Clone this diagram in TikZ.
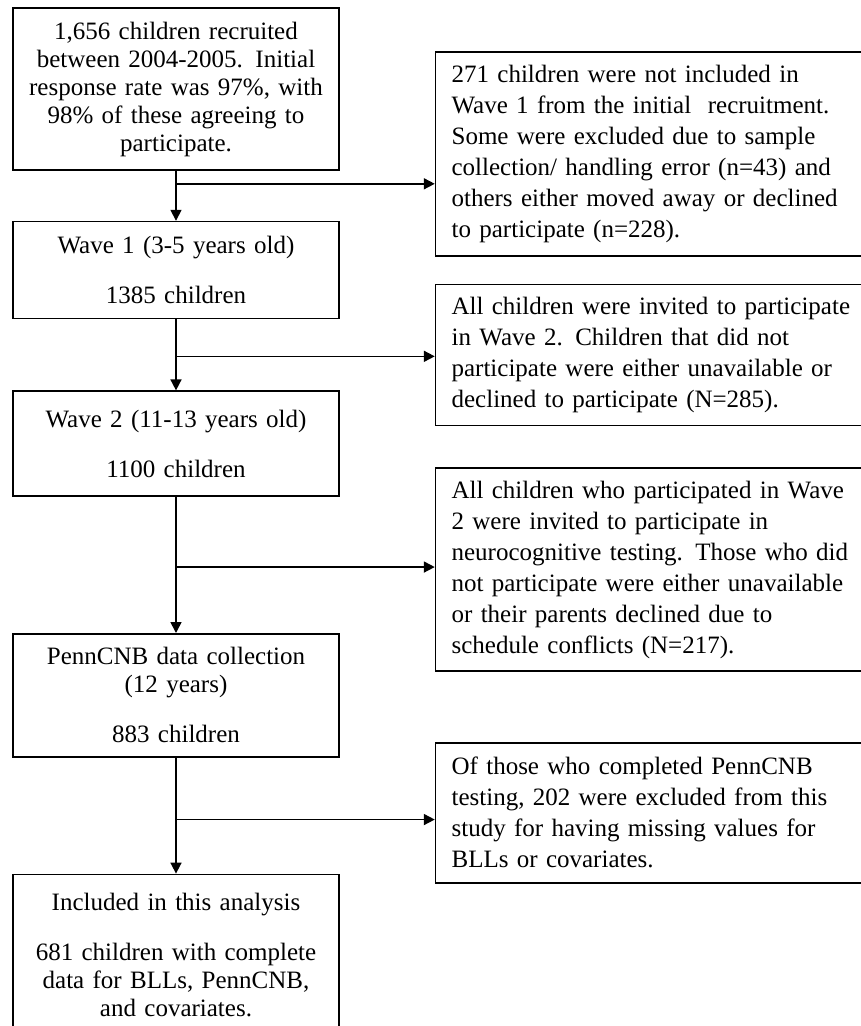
\documentclass[tikz,border=0pt]{standalone}
\usepackage{fontspec}
\setmainfont{Liberation Serif}
\usepackage{tikz}
\usetikzlibrary{arrows.meta,positioning,calc}

\begin{document}
\begin{tikzpicture}[
    x=1pt, y=1pt,
    node distance=50pt,
    stagebox/.style={rectangle, draw=black, line width=1.6pt, text width=310pt, inner xsep=8pt, inner ysep=0pt, align=center, font=\fontsize{25}{28}\selectfont},
    exclbox/.style={rectangle, draw=black, line width=1.6pt, text width=430pt, inner xsep=16pt, inner ysep=0pt, align=left, font=\fontsize{25}{31}\selectfont},
    arrow/.style={-{Triangle[length=11pt,width=11pt]}, line width=1.6pt}
]
\useasboundingbox (0,0) rectangle (861,-1026);
\clip (0,0) rectangle (861,-1026);

% Main flow
\node[stagebox, minimum height=162pt] (recruit) at (176,-89) {1,656 children recruited\\ between 2004-2005.  Initial\\ response rate was 97\%, with\\ 98\% of these agreeing to\\ participate.};
\node[stagebox, minimum height=97pt, below=50pt of recruit] (wave1) {Wave 1 (3-5 years old)\\[22pt] 1385 children};
\node[stagebox, minimum height=105pt, below=71pt of wave1] (wave2) {Wave 2 (11-13 years old)\\[22pt] 1100 children};
\node[stagebox, minimum height=123pt, below=136pt of wave2] (penncnb) {PennCNB data collection\\ (12 years)\\[22pt] 883 children};
\node[stagebox, minimum height=162pt, below=116pt of penncnb] (included) {Included in this analysis\\[22pt] 681 children with complete\\ data for BLLs, PennCNB,\\ and covariates.};

% Exclusions
\node[exclbox, minimum height=204pt, right=95pt of recruit, yshift=-65pt] (excl1) {271 children were not included in\\ Wave 1 from the initial\ \ recruitment.\\ Some were excluded due to sample\\ collection/ handling error (n=43) and\\ others either moved away or declined\\ to participate (n=228).};
\node[exclbox, minimum height=141pt, right=95pt of wave1, yshift=-85pt] (excl2) {All children were invited to participate\\ in Wave 2. Children that did not\\ participate were either unavailable or\\ declined to participate (N=285).};
\node[exclbox, minimum height=203pt, right=95pt of wave2, yshift=-126pt] (excl3) {All children who participated in Wave\\ 2 were invited to participate in\\ neurocognitive testing. Those who did\\ not participate were either unavailable\\ or their parents declined due to\\ schedule conflicts (N=217).};
\node[exclbox, minimum height=140pt, right=95pt of penncnb, yshift=-117.5pt] (excl4) {Of those who completed PennCNB\\ testing, 202 were excluded from this\\ study for having missing values for\\ BLLs or covariates.};

% Branch points
\coordinate (b1) at ($(recruit.south)!0.26!(wave1.north)$);
\coordinate (b2) at ($(wave1.south)!0.52!(wave2.north)$);
\coordinate (b3) at ($(wave2.south)!0.515!(penncnb.north)$);
\coordinate (b4) at ($(penncnb.south)!0.534!(included.north)$);

% Connections
\draw[arrow] (recruit) -- (wave1);
\draw[arrow] (wave1) -- (wave2);
\draw[arrow] (wave2) -- (penncnb);
\draw[arrow] (penncnb) -- (included);
\draw[arrow] (b1) -- (b1 -| excl1.west);
\draw[arrow] (b2) -- (b2 -| excl2.west);
\draw[arrow] (b3) -- (b3 -| excl3.west);
\draw[arrow] (b4) -- (b4 -| excl4.west);

\end{tikzpicture}
\end{document}
